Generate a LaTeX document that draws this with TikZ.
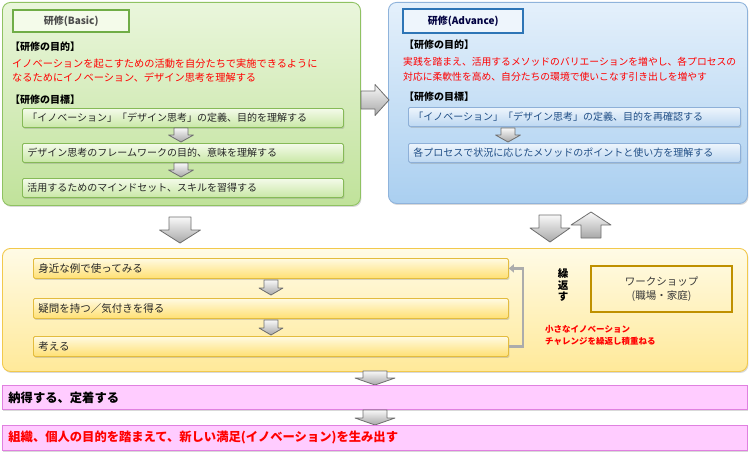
\documentclass[tikz,border=0pt]{standalone}
\usepackage{fontspec}
\setmainfont{Noto Sans CJK JP}
\usetikzlibrary{arrows.meta,shadows}
\definecolor{gpanelT}{HTML}{EAF6DC}
\definecolor{gpanelB}{HTML}{C0E29A}
\definecolor{gpanelD}{HTML}{8FC262}
\definecolor{gboxT}{HTML}{F4FBEA}
\definecolor{gboxB}{HTML}{C9E7A6}
\definecolor{gboxD}{HTML}{86BA57}
\definecolor{gtitleD}{HTML}{70AD47}
\definecolor{bpanelT}{HTML}{E4F0FB}
\definecolor{bpanelB}{HTML}{AACFF0}
\definecolor{bpanelD}{HTML}{8FB3DB}
\definecolor{bboxT}{HTML}{EEF5FC}
\definecolor{bboxB}{HTML}{BDD8F2}
\definecolor{bboxD}{HTML}{8EB0D8}
\definecolor{btitleD}{HTML}{2E75B6}
\definecolor{btext}{HTML}{1F4E86}
\definecolor{opanelT}{HTML}{FFFBE6}
\definecolor{opanelB}{HTML}{FFE999}
\definecolor{opanelD}{HTML}{F2C94C}
\definecolor{oboxT}{HTML}{FFFAE2}
\definecolor{oboxB}{HTML}{FFE073}
\definecolor{oboxD}{HTML}{E3BC3E}
\definecolor{wsD}{HTML}{BF9000}
\definecolor{pinkF}{HTML}{FFCCFF}
\definecolor{pinkD}{HTML}{E080E0}
\definecolor{arrT}{HTML}{F8F8F8}
\definecolor{arrB}{HTML}{A8A8A8}
\definecolor{arrD}{HTML}{6E6E6E}
\definecolor{redtxt}{HTML}{FF0000}
\definecolor{dtxt}{HTML}{262626}
\tikzset{
  shad/.style={drop shadow={shadow xshift=1pt,shadow yshift=-1.5pt,opacity=.3}},
  panel/.style={rounded corners=8pt, line width=0.9pt, anchor=north west, inner sep=0pt, shad},
  gpanel/.style={panel, draw=gpanelD, top color=gpanelT, bottom color=gpanelB},
  bpanel/.style={panel, draw=bpanelD, top color=bpanelT, bottom color=bpanelB},
  opanel/.style={panel, draw=opanelD, top color=opanelT, bottom color=opanelB},
  rowbox/.style={anchor=north west, rounded corners=1.5pt, line width=0.8pt, inner xsep=5pt, inner ysep=0pt, align=left, font=\fontsize{10}{12}\selectfont, shad},
  gbox/.style={rowbox, draw=gboxD, top color=gboxT, bottom color=gboxB, text=dtxt, minimum height=19pt, text width=311pt},
  bbox/.style={rowbox, draw=bboxD, top color=bboxT, bottom color=bboxB, text=btext, minimum height=19pt, text width=322pt},
  obox/.style={rowbox, draw=oboxD, top color=oboxT, bottom color=oboxB, text=dtxt, minimum height=20pt, text width=465pt, font=\fontsize{10.5}{12}\selectfont},
  pbox/.style={anchor=north west, draw=pinkD, fill=pinkF, line width=0.8pt, inner xsep=6pt, inner ysep=0pt, align=left, text width=733pt, font=\bfseries\fontsize{12.3}{14}\selectfont, shad},
  titlebox/.style={anchor=north west, line width=2.4pt, inner sep=0pt, font=\bfseries\fontsize{10}{12}\selectfont},
  heading/.style={anchor=west, inner sep=0pt, font=\bfseries\fontsize{10}{12}\selectfont, text=black},
  redlines/.style={anchor=west, inner sep=0pt, align=left, text=redtxt, font=\fontsize{10.2}{14.5}\selectfont},
  arrowshape/.style={draw=arrD, top color=arrT, bottom color=arrB, line width=0.8pt, line join=round},
  pics/blockarrow/.style n args={4}{code={
    \path[arrowshape] (-#3/2,0) -- (#3/2,0) -- (#3/2,#2-#4) -- (#1/2,#2-#4) -- (0,#2)
      -- (-#1/2,#2-#4) -- (-#3/2,#2-#4) -- cycle;
  }},
  loopline/.style={draw=gray!65, line width=2.6pt, -{Triangle[length=5pt,width=8pt]}},
}
\begin{document}
\begin{tikzpicture}[x=1pt,y=-1pt]
\useasboundingbox (0,0) rectangle (750,460);

% ---------------- Basic panel ----------------
\node[gpanel, minimum width=358pt, minimum height=203pt] (gp) at (2,2) {};
\node[titlebox, draw=gtitleD, fill=gboxT, text=black!70, minimum width=116pt, minimum height=22pt] (gt) at (12,9) {研修(Basic)};
\node[heading] (gh1) at (10,47) {【研修の目的】};
\node[redlines] (gr) at (12,70.5) {イノベーションを起こすための活動を自分たちで実施できるように\\なるためにイノベーション、デザイン思考を理解する};
\node[heading] (gh2) at (10,100) {【研修の目標】};
\node[gbox] (g1) at (22,108) {「イノベーション」「デザイン思考」の定義、目的を理解する};
\node[gbox] (g2) at (22,143) {デザイン思考のフレームワークの目的、意味を理解する};
\node[gbox] (g3) at (22,178) {活用するためのマインドセット、スキルを習得する};
\pic at (181,128) {blockarrow={25}{14}{14}{7}};
\pic at (181,163) {blockarrow={25}{14}{14}{7}};

% ---------------- Advance panel ----------------
\node[bpanel, minimum width=359pt, minimum height=201pt] (bp) at (388,2) {};
\node[titlebox, draw=btitleD, fill=bboxT, text=black!75!blue, minimum width=120pt, minimum height=24pt] (bt) at (402,8) {研修(Advance)};
\node[heading] (bh1) at (404,45) {【研修の目的】};
\node[redlines, font=\fontsize{9.8}{14.5}\selectfont] (br) at (403,69.5) {実践を踏まえ、活用するメソッドのバリエーションを増やし、各プロセスの\\対応に柔軟性を高め、自分たちの環境で使いこなす引き出しを増やす};
\node[heading] (bh2) at (404,97) {【研修の目標】};
\node[bbox] (b1) at (408,107) {「イノベーション」「デザイン思考」の定義、目的を再確認する};
\node[bbox] (b2) at (408,143) {各プロセスで状況に応じたメソッドのポイントと使い方を理解する};
\pic at (508,128) {blockarrow={25}{14}{14}{7}};

% arrow between panels
\pic[rotate=90] at (361,100) {blockarrow={31}{28}{18}{14}};

% arrows between top and middle
\pic at (180,217) {blockarrow={41}{26}{22}{13}};
\pic at (550,215) {blockarrow={40}{27}{22}{14}};
\pic at (591,238) {blockarrow={40}{-26}{20}{-13}};

% ---------------- Workshop panel ----------------
\node[opanel, minimum width=745pt, minimum height=123pt] (op) at (2,248) {};
\node[obox] (o1) at (33,258) {身近な例で使ってみる};
\node[obox] (o2) at (33,298) {疑問を持つ／気付きを得る};
\node[obox] (o3) at (33,336) {考える};
\pic at (271,280) {blockarrow={24}{15}{14}{7}};
\pic at (271,320) {blockarrow={24}{15}{14}{7}};
\draw[loopline] (o3.east) -- ++(14,0) |- (o1.east);
\node[inner sep=0pt, align=center, font=\bfseries\fontsize{10.5}{11.5}\selectfont] (rep) at (563,285) {繰\\返\\す};
\node[anchor=north west, draw=wsD, line width=2pt, minimum width=141pt, minimum height=46pt, inner sep=0pt, align=center, text=black!78, font=\fontsize{10.5}{14}\selectfont] (ws) at (590,265) {ワークショップ\\(職場・家庭)};
\node[anchor=west, inner sep=0pt, align=left, text=redtxt, font=\bfseries\fontsize{8.5}{12}\selectfont] (ch) at (545,335.5) {小さなイノベーション\\チャレンジを繰返し積重ねる};

% ---------------- Results ----------------
\pic at (375,371) {blockarrow={40}{14}{24}{7}};
\node[pbox, minimum height=24pt] (p1) at (2,385) {納得する、定着する};
\pic at (375,410) {blockarrow={40}{15}{24}{7}};
\node[pbox, minimum height=25pt, text=redtxt] (p2) at (2,425) {組織、個人の目的を踏まえて、新しい満足(イノベーション)を生み出す};
\end{tikzpicture}
\end{document}
